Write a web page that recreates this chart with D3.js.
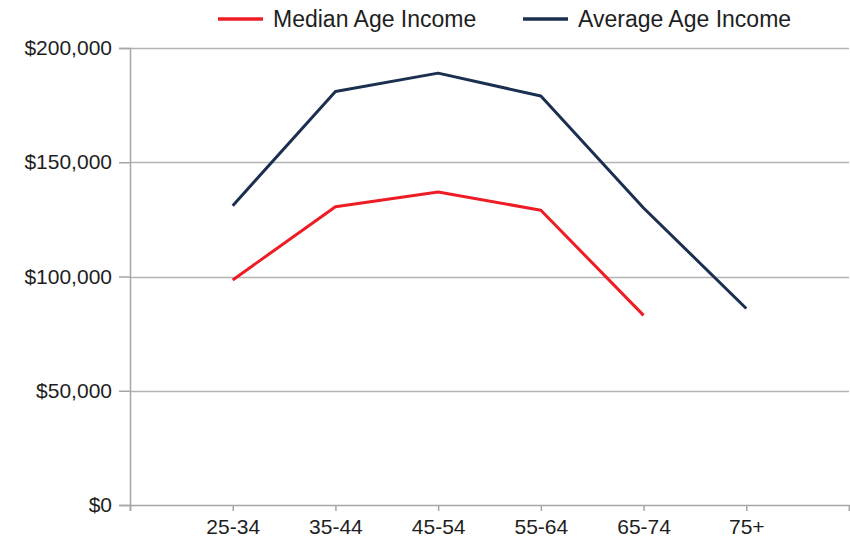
<!DOCTYPE html>
<html>
<head>
<meta charset="utf-8">
<script src="https://cdn.jsdelivr.net/npm/d3@7"></script>
<style>
  body { margin: 0; background: #fff; }
  svg text { font-family: "Liberation Sans", Arial, sans-serif; fill: #1e1e1e; }
</style>
</head>
<body>
<div class="chart"></div>
<script>
// age brackets along the x axis
const ageGroups = ["25-34", "35-44", "45-54", "55-64", "65-74", "75+"]
// income series (null = no value)
const medianIncome = [98500, 130500, 137000, 129000, 83000, null]
const averageIncome = [131000, 181000, 189000, 179000, 130000, 86000]
const yTicks = [0, 50000, 100000, 150000, 200000]
const seriesNames = ["Median Age Income", "Average Age Income"]
const seriesColors = ["#ee1d25", "#1b2f50"]

const width = 850
const height = 544
const plotLeft = 130, plotRight = 849, plotTop = 48, plotBottom = 505

const svg = d3.select('.chart')
    .append('svg')
    .attr('width', width)
    .attr('height', height)

// x: one slot before the first bracket and one after the last
const x = d3.scaleLinear().domain([0, ageGroups.length + 1]).range([plotLeft, plotRight])
const y = d3.scaleLinear().domain([0, 200000]).range([plotBottom, plotTop])

// gridlines
svg.append('g')
    .selectAll('line')
    .data(yTicks.filter(d => d > 0))
    .enter()
    .append('line')
    .attr('x1', plotLeft)
    .attr('x2', plotRight)
    .attr('y1', d => Math.round(y(d)) + 0.5)
    .attr('y2', d => Math.round(y(d)) + 0.5)
    .attr('stroke', '#b3b3b3')
    .attr('stroke-width', 1.5)

// y axis
const yAxis = d3.axisLeft(y)
    .tickValues(yTicks)
    .tickSize(11)
    .tickPadding(7)
    .tickFormat(d3.format('$,'))
svg.append('g')
    .attr('transform', `translate(${plotLeft}, 0)`)
    .call(yAxis)
    .call(g => g.selectAll('text').style('font-size', '21px'))

// x axis
const xAxis = d3.axisBottom(x)
    .tickValues(d3.range(0, ageGroups.length + 2))
    .tickSize(6)
    .tickPadding(8)
    .tickFormat(i => ageGroups[i - 1] || '')
svg.append('g')
    .attr('transform', `translate(0, ${plotBottom})`)
    .call(xAxis)
    .call(g => g.selectAll('text').style('font-size', '21px'))

svg.selectAll('.domain, .tick line')
    .attr('stroke', '#a6a6a6')
    .attr('stroke-width', 1.5)

// lines
const line = d3.line()
    .defined(d => d != null)
    .x((d, i) => x(i + 1))
    .y(d => y(d))

svg.selectAll('path.series')
    .data([medianIncome, averageIncome])
    .enter()
    .append('path')
    .attr('class', 'series')
    .attr('d', d => line(d))
    .attr('fill', 'none')
    .attr('stroke', (d, i) => seriesColors[i])
    .attr('stroke-width', 3)
    .attr('stroke-linejoin', 'round')

// legend
const legendX = [218, 523]
const legend = svg.append('g')
    .selectAll('g')
    .data(seriesNames)
    .enter()
    .append('g')
    .attr('transform', (d, i) => `translate(${legendX[i]}, 19)`)
legend.append('line')
    .attr('x1', 0)
    .attr('x2', 45)
    .attr('stroke', (d, i) => seriesColors[i])
    .attr('stroke-width', 3.5)
legend.append('text')
    .attr('x', 55)
    .attr('y', 8)
    .style('font-size', '23px')
    .text(d => d)
</script>
</body>
</html>
